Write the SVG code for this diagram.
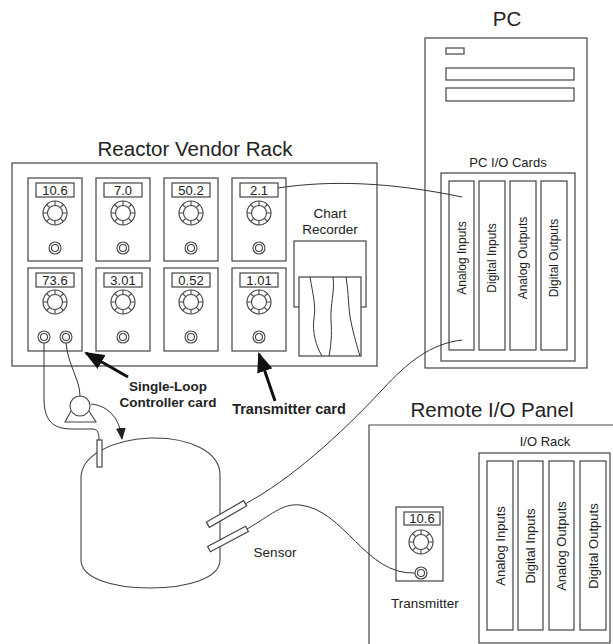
<svg xmlns="http://www.w3.org/2000/svg" xmlns:xlink="http://www.w3.org/1999/xlink" width="613" height="644" viewBox="0 0 613 644">
  <style>
    .box { fill: #fff; stroke: #444; stroke-width: 1.2; }
    .ln { fill: none; stroke: #444; stroke-width: 1.1; }
    .wire { fill: none; stroke: #333; stroke-width: 1; }
    .t { font-family: "Liberation Sans", Arial, sans-serif; fill: #222; text-anchor: middle; }
    .title { font-size: 20.5px; }
    .lbl { font-size: 13.5px; }
    .num { font-size: 13px; }
    .card { font-size: 12px; }
    .cardR { font-size: 13px; }
    .bold { font-size: 13.5px; font-weight: bold; }
    .call { fill: none; stroke: #111; stroke-width: 3; }
  </style>
  <defs>
    <!-- rotary knob: ring with radial ribs -->
    <g id="knob">
      <circle r="12" class="ln"/>
      <circle r="7.5" class="ln"/>
      <path class="ln" d="M0,-12V-7.5 M0,12V7.5 M-12,0H-7.5 M12,0H7.5 M-8.5,-8.5L-5.3,-5.3 M8.5,-8.5L5.3,-5.3 M-8.5,8.5L-5.3,5.3 M8.5,8.5L5.3,5.3"/>
    </g>
    <!-- connector jack -->
    <g id="jack">
      <circle r="6" class="ln"/>
      <circle r="3.5" class="ln"/>
    </g>
    <marker id="bigHead" markerUnits="userSpaceOnUse" viewBox="0 0 20 16" refX="18" refY="8" markerWidth="20" markerHeight="16" orient="auto">
      <path d="M0,0 L20,8 L0,16 Z" fill="#111"/>
    </marker>
    <marker id="smallHead" markerUnits="userSpaceOnUse" viewBox="0 0 12 10" refX="11" refY="5" markerWidth="12" markerHeight="10" orient="auto">
      <path d="M0,0 L12,5 L0,10 Z" fill="#222"/>
    </marker>
  </defs>

  <rect width="613" height="644" fill="#fff"/>

  <!-- Reactor vendor rack -->
  <g id="vendor-rack">
    <text class="t title" x="195" y="156">Reactor Vendor Rack</text>
    <rect class="box" x="12" y="163" width="365" height="203"/>

    <g id="card-1">
      <rect class="box" x="28" y="178" width="54" height="83"/>
      <rect class="box" x="36" y="183" width="38" height="14"/>
      <text class="t num" x="55" y="195">10.6</text>
      <use href="#knob" x="55" y="213"/>
      <use href="#jack" x="55" y="248"/>
    </g>
    <g id="card-2">
      <rect class="box" x="96" y="178" width="54" height="83"/>
      <rect class="box" x="104" y="183" width="38" height="14"/>
      <text class="t num" x="123" y="195">7.0</text>
      <use href="#knob" x="123" y="213"/>
      <use href="#jack" x="123" y="248"/>
    </g>
    <g id="card-3">
      <rect class="box" x="164" y="178" width="54" height="83"/>
      <rect class="box" x="172" y="183" width="38" height="14"/>
      <text class="t num" x="191" y="195">50.2</text>
      <use href="#knob" x="191" y="213"/>
      <use href="#jack" x="191" y="248"/>
    </g>
    <g id="card-4">
      <rect class="box" x="232" y="178" width="54" height="83"/>
      <rect class="box" x="240" y="183" width="38" height="14"/>
      <text class="t num" x="259" y="195">2.1</text>
      <use href="#knob" x="259" y="213"/>
      <use href="#jack" x="259" y="248"/>
    </g>
    <g id="card-5">
      <rect class="box" x="28" y="268" width="54" height="83"/>
      <rect class="box" x="36" y="273" width="38" height="14"/>
      <text class="t num" x="55" y="285">73.6</text>
      <use href="#knob" x="55" y="302"/>
      <use href="#jack" x="44" y="337"/>
      <use href="#jack" x="66" y="337"/>
    </g>
    <g id="card-6">
      <rect class="box" x="96" y="268" width="54" height="83"/>
      <rect class="box" x="104" y="273" width="38" height="14"/>
      <text class="t num" x="123" y="285">3.01</text>
      <use href="#knob" x="123" y="302"/>
      <use href="#jack" x="123" y="337"/>
    </g>
    <g id="card-7">
      <rect class="box" x="164" y="268" width="54" height="83"/>
      <rect class="box" x="172" y="273" width="38" height="14"/>
      <text class="t num" x="191" y="285">0.52</text>
      <use href="#knob" x="191" y="302"/>
      <use href="#jack" x="191" y="337"/>
    </g>
    <g id="card-8">
      <rect class="box" x="232" y="268" width="54" height="83"/>
      <rect class="box" x="240" y="273" width="38" height="14"/>
      <text class="t num" x="259" y="285">1.01</text>
      <use href="#knob" x="259" y="302"/>
      <use href="#jack" x="259" y="337"/>
    </g>

    <g id="chart-recorder">
      <text class="t lbl" x="330" y="218">Chart</text>
      <text class="t lbl" x="330" y="234">Recorder</text>
      <rect class="box" x="294" y="241" width="72" height="66"/>
      <rect class="box" x="299" y="277" width="62" height="79"/>
      <path class="wire" d="M310,277 C313,295 316,305 314,318 C312,332 316,346 322,356"/>
      <path class="wire" d="M333,277 C335,292 330,305 331,320 C332,335 331,346 329,356"/>
      <path class="wire" d="M346,277 C349,295 348,308 351,322 C354,336 357,346 360,356"/>
    </g>
  </g>

  <!-- PC tower -->
  <g id="pc">
    <text class="t title" x="507" y="26">PC</text>
    <rect class="box" x="425" y="38" width="162" height="330"/>
    <rect class="box" x="446" y="48" width="18" height="6"/>
    <rect class="box" x="446" y="68" width="128" height="12"/>
    <rect class="box" x="446" y="88" width="128" height="13"/>
    <text class="t lbl" x="508" y="167" style="font-size:13px">PC I/O Cards</text>
    <rect class="box" x="441" y="173" width="134" height="188"/>
    <rect class="box" x="449" y="181" width="25" height="169"/>
    <rect class="box" x="479" y="181" width="26" height="169"/>
    <rect class="box" x="510" y="181" width="26" height="169"/>
    <rect class="box" x="541" y="181" width="26" height="169"/>
    <text class="t card" transform="translate(466,258) rotate(-90)">Analog Inputs</text>
    <text class="t card" transform="translate(496,258) rotate(-90)">Digital Inputs</text>
    <text class="t card" transform="translate(527,258) rotate(-90)">Analog Outputs</text>
    <text class="t card" transform="translate(558,258) rotate(-90)">Digital Outputs</text>
  </g>

  <!-- Remote I/O panel -->
  <g id="remote-panel">
    <text class="t title" x="492" y="417">Remote I/O Panel</text>
    <path class="ln" d="M369,644 V425 H613" style="stroke-width:1.2"/>
    <text class="t lbl" x="545" y="446" style="font-size:13px">I/O Rack</text>
    <rect class="box" x="479" y="453" width="131" height="190"/>
    <rect class="box" x="487" y="461" width="26" height="169"/>
    <rect class="box" x="518" y="461" width="25" height="169"/>
    <rect class="box" x="549" y="461" width="25" height="169"/>
    <rect class="box" x="580" y="461" width="26" height="169"/>
    <text class="t cardR" transform="translate(504.5,546) rotate(-90)">Analog Inputs</text>
    <text class="t cardR" transform="translate(535,546) rotate(-90)">Digital Inputs</text>
    <text class="t cardR" transform="translate(566,546) rotate(-90)">Analog Outputs</text>
    <text class="t cardR" transform="translate(597.5,546) rotate(-90)">Digital Outputs</text>
  </g>

  <g id="field-transmitter">
    <rect class="box" x="396" y="507" width="47" height="74"/>
    <rect class="box" x="404" y="512" width="36" height="13"/>
    <text class="t num" x="422" y="523">10.6</text>
    <use href="#knob" x="421" y="542"/>
    <use href="#jack" x="421" y="573"/>
    <text class="t lbl" x="425" y="608">Transmitter</text>
  </g>

  <!-- Reactor vessel with sensors -->
  <g id="tank">
    <path class="ln" d="M81,560 V478 C81,455 112,440 150,438 C190,437 220,452 220,475 V560 C220,578 188,588 150,588 C112,588 81,578 81,560 Z"/>
    <rect class="box" x="97" y="440" width="5" height="27"/>
    <rect class="box" x="205" y="511" width="43" height="6" transform="rotate(-30 226.5 514)"/>
    <rect class="box" x="206.5" y="536" width="43" height="6" transform="rotate(-28 228 539)"/>
    <text class="t lbl" x="275" y="557">Sensor</text>
  </g>

  <g id="pump">
    <circle class="ln" cx="80" cy="406" r="10"/>
    <path class="ln" d="M71,411 L65,422 H96 L89,411"/>
  </g>

  <g id="callouts">
    <path class="call" d="M128,377 L86,353" marker-end="url(#bigHead)"/>
    <text class="t bold" x="168" y="391">Single-Loop</text>
    <text class="t bold" x="168" y="407">Controller card</text>
    <path class="call" d="M275,401 L259,354" marker-end="url(#bigHead)"/>
    <text class="t bold" x="289" y="414" style="font-size:14.5px">Transmitter card</text>
  </g>

  <!-- wiring and piping -->
  <g id="connectors">
    <path class="wire" d="M278,188 C330,180 390,182 462,197"/>
    <path class="wire" d="M462,340 C430,344 408,362 382,390 C340,435 290,480 245,504"/>
    <path class="wire" d="M247,529 C270,516 282,503 300,505 C345,510 365,575 415,573"/>
    <path class="wire" d="M44,343 V398 C44,420 52,429 72,429 H92 C98,429 99,433 99,440"/>
    <path class="wire" d="M66,343 C68,365 80,380 80,396"/>
    <path class="wire" d="M91,404 C110,406 120,420 122,439" marker-end="url(#smallHead)"/>
  </g>
</svg>
